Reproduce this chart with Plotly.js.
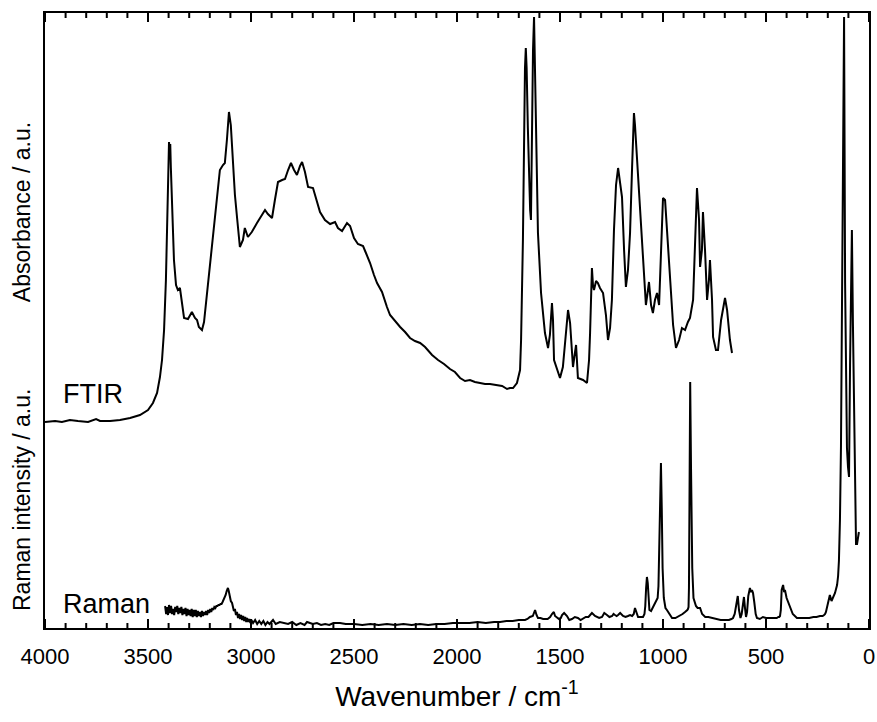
<!DOCTYPE html>
<html>
<head>
<meta charset="utf-8">
<script src="https://cdn.plot.ly/plotly-3.0.1.min.js"></script>
<style>html,body{margin:0;padding:0;background:#fff;}#chart{width:877px;height:722px;}</style>
</head>
<body>
<div id="chart"></div>
<script>
// FTIR spectrum (wavenumber / cm-1, absorbance a.u., offset upward)
const ftirWn = [4000,3951,3918,3879,3840,3791,3752,3733,3684,3636,3587,3539,3500,3476,3456,3442,3432,3422,3413,3408,3403,3398,3395,3392,3389,3384,3374,3364,3355,3345,3335,3325,3306,3287,3272,3262,3253,3238,3228,3214,3199,3185,3166,3151,3136,3127,3117,3107,3098,3088,3078,3068,3054,3039,3030,3015,2996,2971,2947,2932,2918,2898,2884,2869,2849,2835,2820,2806,2791,2777,2762,2752,2738,2723,2699,2684,2665,2641,2616,2592,2578,2558,2534,2519,2500,2481,2456,2442,2422,2403,2388,2364,2349,2340,2325,2310,2276,2252,2228,2204,2179,2155,2121,2092,2063,2034,2010,1985,1961,1937,1913,1888,1864,1840,1806,1781,1757,1743,1728,1709,1694,1689,1680,1676,1670,1666,1662,1656,1650,1645,1641,1636,1631,1626,1621,1616,1607,1592,1573,1558,1549,1539,1534,1529,1515,1500,1486,1471,1461,1451,1437,1427,1422,1413,1388,1369,1359,1354,1345,1340,1335,1325,1316,1306,1291,1277,1267,1257,1248,1238,1228,1218,1209,1199,1189,1180,1170,1160,1150,1146,1141,1136,1126,1117,1107,1097,1083,1073,1068,1058,1049,1039,1029,1019,1010,1000,990,981,966,951,937,922,908,893,879,869,854,844,835,825,820,811,806,796,786,777,772,762,757,743,733,718,704,699,689,675,665];
const ftirAbs = [206,207,206,208,207,206,209,207,207,208,210,213,218,225,235,251,268,298,348,395,458,486,478,484,460,428,368,343,338,340,323,310,309,316,310,308,301,298,306,335,365,395,433,458,463,465,488,516,503,461,433,411,381,388,400,391,396,405,413,418,414,410,428,446,448,449,458,465,458,453,462,466,456,441,440,430,416,408,404,406,400,397,405,402,390,384,382,375,365,353,345,336,325,321,313,309,301,296,290,287,285,281,273,268,264,259,256,250,247,248,246,245,244,244,243,242,239,240,240,245,258,288,388,470,560,580,560,500,450,418,408,498,578,611,558,495,395,335,295,280,293,325,308,268,260,250,261,298,318,305,261,276,283,250,248,245,268,295,360,343,338,347,345,340,335,313,288,300,328,398,443,460,448,431,378,341,358,395,461,498,515,503,468,436,408,368,323,338,346,323,315,328,335,323,378,430,428,398,345,303,280,288,300,298,306,310,328,388,440,408,361,378,416,378,328,348,368,328,291,278,278,308,328,330,318,288,275];

// Raman spectrum (wavenumber / cm-1, intensity a.u.)
const ramanWn = [3417,3412,3408,3403,3398,3393,3388,3383,3378,3373,3368,3363,3358,3353,3348,3343,3338,3333,3328,3323,3318,3313,3308,3303,3298,3293,3288,3283,3278,3273,3268,3263,3258,3253,3248,3243,3238,3233,3228,3223,3218,3213,3208,3203,3198,3193,3188,3183,3178,3173,3168,3163,3158,3153,3148,3143,3138,3133,3128,3123,3118,3112,3108,3103,3098,3092,3088,3083,3078,3073,3068,3063,3058,3053,3048,3043,3038,3033,3028,3023,3019,3013,3008,3003,2998,2990,2980,2970,2960,2950,2940,2930,2920,2910,2893,2880,2860,2840,2820,2800,2780,2760,2740,2728,2700,2680,2660,2640,2620,2600,2568,2540,2500,2460,2420,2380,2340,2300,2260,2220,2180,2140,2100,2060,2020,1980,1940,1900,1860,1820,1791,1760,1730,1700,1670,1658,1646,1632,1621,1614,1607,1595,1582,1560,1548,1539,1530,1524,1505,1496,1490,1480,1466,1455,1442,1428,1413,1400,1393,1375,1362,1354,1345,1330,1310,1296,1285,1272,1260,1247,1240,1233,1225,1218,1208,1194,1182,1170,1160,1150,1142,1136,1128,1121,1110,1097,1090,1086,1082,1078,1074,1070,1066,1058,1050,1040,1032,1026,1022,1018,1014,1010,1006,1002,996,988,981,970,956,940,920,905,893,886,882,879,876,874,871,868,864,858,852,846,840,832,820,810,795,780,760,740,720,700,680,668,660,652,646,641,637,631,624,618,612,607,602,597,592,586,578,573,568,563,557,550,544,530,515,500,480,460,448,440,436,432,428,424,417,412,408,400,385,370,350,330,310,290,270,255,238,225,218,213,209,204,199,190,182,175,165,155,150,146,141,136,131,126,121,116,112,107,102,97,92,87,83,78,73,68,63,58,53,49,44];
const ramanInt = [22,14,21,13,23,15,22,14,19,13,21,16,22,14,20,15,21,13,19,14,20,12,19,13,18,12,19,11,18,12,18,11,17,12,16,11,17,12,16,13,17,13,18,15,19,16,20,18,21,20,22,22,23,23,24,24,26,28,30,33,37,40,37,31,27,25,21,17,19,13,16,10,14,9,13,8,12,7,11,6,10,6,9,5,8,5,8,4,7,4,7,3,6,4,8,4,6,5,4,6,3,5,3,6,4,5,3,4,3,5,5,4,4,3,4,3,4,3,4,3,4,3,4,4,5,5,5,6,5,6,6,7,7,8,8,9,11,12,18,13,10,10,9,9,11,14,16,12,9,10,13,15,12,8,9,11,10,8,9,11,11,13,15,12,10,11,15,13,11,12,14,13,12,13,15,12,11,12,13,12,14,20,15,11,11,11,14,22,40,51,45,24,18,17,20,24,27,30,42,80,140,165,120,60,30,20,18,14,10,10,12,14,16,17,18,19,21,40,150,246,160,60,30,25,22,20,20,14,11,11,10,9,8,8,8,9,10,14,22,30,32,18,10,14,26,31,20,11,16,32,40,36,38,35,26,14,10,9,11,10,10,10,10,11,11,12,18,38,43,36,38,30,21,14,10,10,10,10,11,11,12,12,13,14,16,20,26,33,27,30,35,43,52,67,108,182,333,468,611,345,223,180,161,151,263,345,398,304,243,150,84,84,90,96];

// Axis ticks (wavenumber positions)
const majorTicks = [4000, 3500, 3000, 2500, 2000, 1500, 1000, 500, 0];
const minorTicks = [3900,3800,3700,3600,3400,3300,3200,3100,2900,2800,2700,2600,2400,2300,2200,2100,1900,1800,1700,1600,1400,1300,1200,1100,900,800,700,600,400,300,200,100];

const FONT = 'Liberation Sans, Arial, sans-serif';
const Y_TOP = 615;           // y-axis upper limit (a.u.)
const MAJOR_LEN = 9, MINOR_LEN = 5;

// Inside tick marks on bottom and top axes, drawn as a line trace through the axis scales
const tickX = [], tickY = [];
function addTicks(vals, len) {
  vals.forEach(v => {
    tickX.push(v, v, null, v, v, null);
    tickY.push(0, len, null, Y_TOP, Y_TOP - len, null);
  });
}
addTicks(majorTicks, MAJOR_LEN);
addTicks(minorTicks, MINOR_LEN);

const traces = [
  {x: ftirWn, y: ftirAbs, type: 'scatter', mode: 'lines', line: {color: '#000', width: 2}, hoverinfo: 'skip'},
  {x: ramanWn, y: ramanInt, type: 'scatter', mode: 'lines', line: {color: '#000', width: 2}, hoverinfo: 'skip'},
  {x: tickX, y: tickY, type: 'scatter', mode: 'lines', connectgaps: false, line: {color: '#000', width: 2}, hoverinfo: 'skip'}
];

const layout = {
  width: 877, height: 722,
  margin: {l: 45, r: 8, t: 13, b: 94},
  paper_bgcolor: '#fff', plot_bgcolor: '#fff',
  showlegend: false,
  font: {family: FONT, size: 22, color: '#000'},
  xaxis: {
    range: [4000, 0],
    tickmode: 'array', tickvals: majorTicks, ticktext: majorTicks.map(String),
    ticks: '',
    showline: true, linecolor: '#000', linewidth: 2, mirror: true,
    showgrid: false, zeroline: false,
    tickfont: {family: FONT, size: 22, color: '#000'},
    ticklabelstandoff: 8,
    title: {text: 'Wavenumber / cm<sup>-1</sup>', font: {family: FONT, size: 28, color: '#000'}, standoff: 18}
  },
  yaxis: {
    range: [0, Y_TOP],
    showticklabels: false, ticks: '',
    showline: true, linecolor: '#000', linewidth: 2, mirror: true,
    showgrid: false, zeroline: false
  },
  annotations: [
    {text: 'FTIR', xref: 'paper', yref: 'paper', x: 0.019, y: 0.381, xanchor: 'left', yanchor: 'middle', showarrow: false,
     font: {family: FONT, size: 27, color: '#000'}},
    {text: 'Raman', xref: 'paper', yref: 'paper', x: 0.019, y: 0.039, xanchor: 'left', yanchor: 'middle', showarrow: false,
     font: {family: FONT, size: 27, color: '#000'}},
    {text: 'Absorbance / a.u.', xref: 'paper', yref: 'paper', x: -0.028, y: 0.676, xanchor: 'center', yanchor: 'middle', textangle: -90, showarrow: false,
     font: {family: FONT, size: 23, color: '#000'}},
    {text: 'Raman intensity / a.u.', xref: 'paper', yref: 'paper', x: -0.028, y: 0.208, xanchor: 'center', yanchor: 'middle', textangle: -90, showarrow: false,
     font: {family: FONT, size: 23, color: '#000'}}
  ]
};

Plotly.newPlot('chart', traces, layout, {displayModeBar: false});
</script>
</body>
</html>
